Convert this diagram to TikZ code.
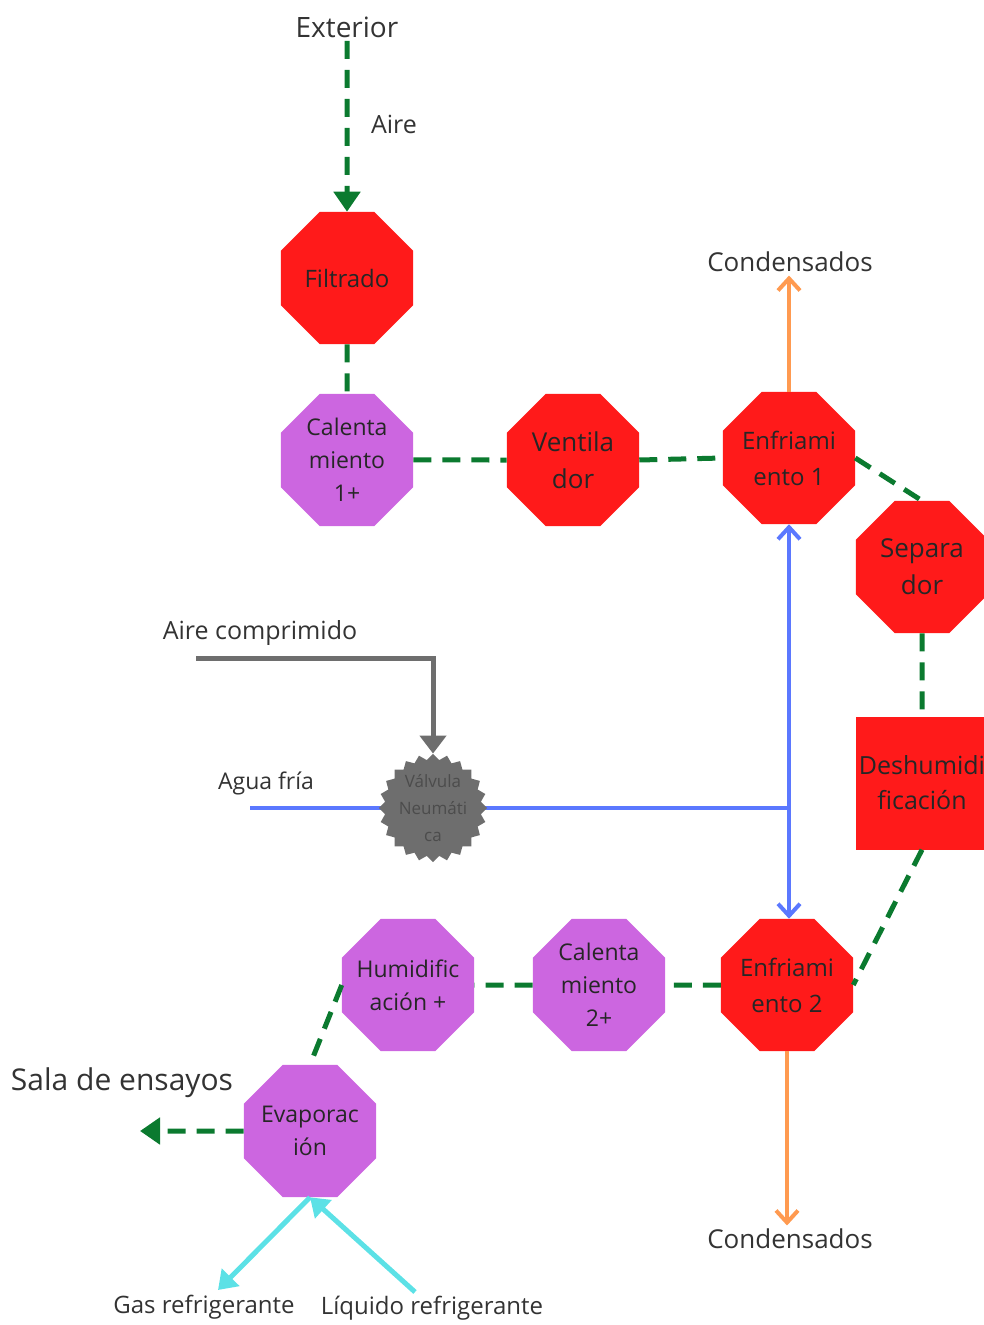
\documentclass[tikz,border=0pt]{standalone}
\usepackage{fontspec}
\setmainfont{Open Sans}
\usepackage{xcolor}
\usetikzlibrary{shapes,arrows.meta,positioning,calc}

\definecolor{rojo}{HTML}{FF1A1A}
\definecolor{lila}{HTML}{CC66E0}
\definecolor{gris}{HTML}{6E6E6E}
\definecolor{verde}{HTML}{0B7A2F}
\definecolor{azul}{HTML}{5B78FF}
\definecolor{naranja}{HTML}{FF9A50}
\definecolor{cian}{HTML}{5CE1E6}
\definecolor{texto}{HTML}{333333}

\tikzset{
    octo/.style={regular polygon, regular polygon sides=8, minimum size=143pt,
        inner sep=-10pt, align=center, text=black!85,
        font=\fontsize{23}{33}\selectfont},
    octorojo/.style={octo, fill=rojo},
    octolila/.style={octo, fill=lila},
    etiqueta/.style={text=texto, font=\fontsize{25}{28}\selectfont},
    flujo/.style={verde, line width=5pt, dash pattern=on 18pt off 11pt},
    agua/.style={azul, line width=4pt},
    cond/.style={naranja, line width=4pt, -{Straight Barb[length=12pt,width=22pt,line width=4pt]}},
    refri/.style={cian, line width=5pt, -{Triangle[length=18pt,width=24pt]}}
}

\begin{document}
\begin{tikzpicture}[x=1pt, y=-1pt]
    \useasboundingbox (0,0) rectangle (984,1325);

    % Entrada de aire
    \node[etiqueta, font=\fontsize{28}{30}\selectfont] (exterior) at (347,27) {Exterior};
    \node[etiqueta] (aire) at (394,124) {Aire};

    % Tratamiento del aire
    \node[octorojo, font=\fontsize{24}{33}\selectfont] (filtrado) at (347,278) {Filtrado};
    \node[octolila] (cal1) at (347,460) {Calenta\\miento\\1+};
    \node[octorojo, font=\fontsize{26}{37}\selectfont] (ventilador) at (573,460) {Ventila\\dor};
    \node[octorojo, font=\fontsize{24}{36}\selectfont] (enf1) at (789,458) {Enfriami\\ento 1};
    \node[octorojo, font=\fontsize{26}{37}\selectfont] (separador) at (922,567) {Separa\\dor};
    \node[rectangle, fill=rojo, minimum width=132pt, minimum height=133pt, align=center,
        text=black!85, font=\fontsize{25}{35}\selectfont] (deshum) at (922,783) {Deshumidi\\ficación};
    \node[octorojo, font=\fontsize{24}{36}\selectfont] (enf2) at (787,985) {Enfriami\\ento 2};
    \node[octolila] (cal2) at (599,985) {Calenta\\miento\\2+};
    \node[octolila] (humid) at (408,985) {Humidific\\ación +};
    \node[octolila] (evap) at (310,1131) {Evaporac\\ión};

    % Salidas
    \node[etiqueta, font=\fontsize{26}{28}\selectfont] (cond1) at (790,262) {Condensados};
    \node[etiqueta, font=\fontsize{26}{28}\selectfont] (cond2) at (790,1239) {Condensados};
    \node[etiqueta, font=\fontsize{30}{32}\selectfont] (sala) at (122,1083) {Sala de ensayos};
    \node[etiqueta, font=\fontsize{24}{26}\selectfont] (gas) at (204,1307) {Gas refrigerante};
    \node[etiqueta, font=\fontsize{24}{26}\selectfont] (liquido) at (432,1308) {Líquido refrigerante};
    \coordinate (salafin) at (140,1131);
    \coordinate (gasfin) at (218,1290);
    \coordinate (liqini) at (415,1292);

    % Agua fria y aire comprimido
    \node[etiqueta] (airecomp) at (260,633) {Aire comprimido};
    \node[etiqueta, font=\fontsize{23}{26}\selectfont] (aguafria) at (266,783) {Agua fría};
    \coordinate (aireini) at (196,658);
    \coordinate (aguaini) at (250,808);
    \coordinate (cruce) at (enf1.south |- aguaini);
    \draw[agua] (aguaini) -- (cruce);
    \draw[agua, {Straight Barb[length=12pt,width=22pt,line width=4pt]}-{Straight Barb[length=12pt,width=22pt,line width=4pt]}]
        (enf1.south) -- (enf1.south |- enf2.north);
    \node[star, star points=24, star point ratio=1.12, minimum size=108pt, inner sep=0pt,
        fill=gris, align=center, text=black!70, font=\fontsize{17}{27}\selectfont] (valvula) at (433,808) {Válvula\\Neumáti\\ca};
    \draw[gris, line width=5pt, -{Triangle[length=18pt,width=26pt]}] (aireini) -| (valvula.north);

    % Recorrido del aire
    \draw[flujo, -{Triangle[length=20pt,width=26pt]}] (exterior.south) -- (filtrado.north);
    \draw[flujo] (filtrado.south) -- (cal1.north);
    \draw[flujo] (cal1.east) -- (ventilador.west);
    \draw[flujo] (ventilador.east) -- (enf1.west);
    \draw[flujo] (enf1.east) -- (separador.north);
    \draw[flujo] (separador.south) -- (deshum.north);
    \draw[flujo] (deshum.south) -- (enf2.east);
    \draw[flujo] (enf2.west) -- (cal2.east);
    \draw[flujo] (cal2.west) -- (humid.east);
    \draw[flujo] (humid.west) -- (evap.north);
    \draw[flujo, -{Triangle[length=20pt,width=26pt]}] (evap.west) -- (salafin);

    % Condensados y refrigerante
    \draw[cond] (enf1.north) -- (enf1.north |- cond1.south);
    \draw[cond] (enf2.south) -- (enf2.south |- cond2.north);
    \draw[refri] (evap.south) -- (gasfin);
    \draw[refri] (liqini) -- (evap.south);
\end{tikzpicture}
\end{document}
